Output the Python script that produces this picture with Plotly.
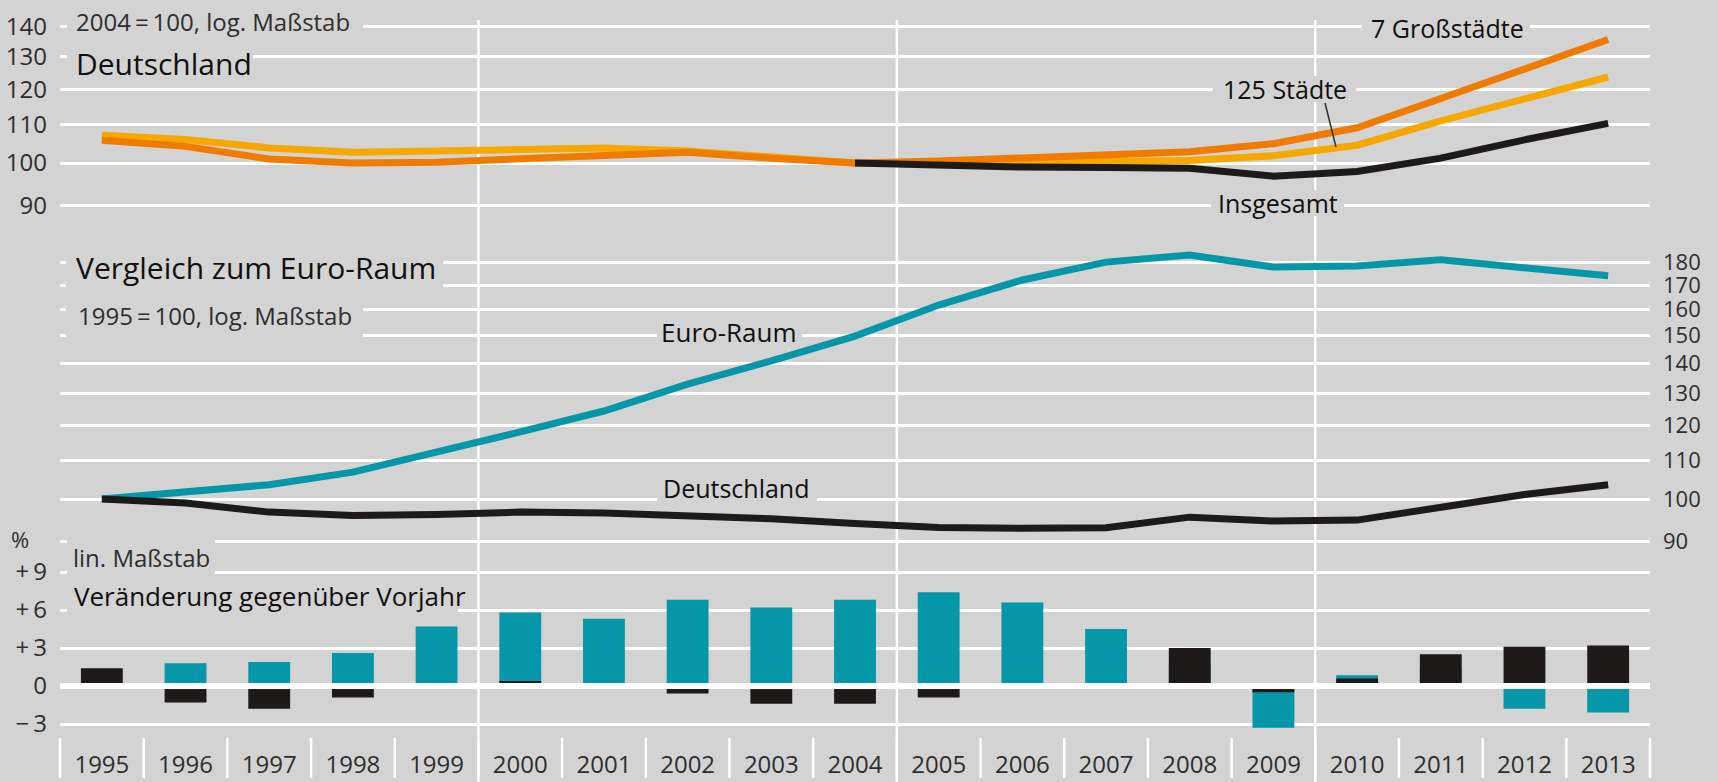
import plotly.graph_objects as go

# ---------------- data ----------------
years = list(range(1995, 2014))
year_labels = [str(y) for y in years]

# Top panel: Deutschland, 2004 = 100 (log scale)
staedte125 = [107.1, 106.0, 103.8, 102.7, 103.0, 103.6, 103.8, 103.0, 101.4, 100.0,
              99.9, 100.2, 100.4, 100.6, 101.8, 104.5, 111.0, 117.3, 123.7]
grossstaedte7 = [105.8, 104.2, 101.0, 100.0, 100.2, 101.0, 102.0, 102.7, 101.2, 100.0,
                 100.5, 101.3, 102.2, 102.8, 104.9, 109.1, 117.3, 126.4, 135.7]
insgesamt_years = years[9:]
insgesamt = [100.0, 99.4, 99.0, 98.9, 98.7, 96.8, 97.9, 101.2, 105.9, 110.3]

# Middle panel: Vergleich zum Euro-Raum, 1995 = 100 (log scale)
euro_raum = [100.0, 101.6, 103.6, 106.9, 112.2, 118.1, 124.4, 133.0, 140.9, 149.8,
             161.8, 172.2, 180.0, 183.2, 177.8, 178.3, 181.0, 177.7, 174.0]
deutschland = [100.0, 99.0, 96.8, 96.0, 96.2, 96.8, 96.6, 96.1, 95.2, 94.1,
               93.2, 93.0, 93.1, 95.6, 94.7, 94.9, 97.8, 101.1, 103.6]

# Bottom panel: Veränderung gegenüber Vorjahr in %
euro_change = [None, 1.8, 1.9, 2.6, 4.7, 5.8, 5.3, 6.8, 6.2, 6.8,
               7.4, 6.6, 4.5, 1.8, -3.3, 0.85, 1.5, -1.8, -2.1]
de_change = [1.4, -1.3, -1.8, -0.9, 0.2, 0.4, -0.2, -0.6, -1.4, -1.4,
             -0.9, -0.1, 0.1, 3.0, -0.5, 0.6, 2.5, 3.1, 3.2]

top_ticks = [90, 100, 110, 120, 130, 140]
mid_ticks = [90, 100, 110, 120, 130, 140, 150, 160, 170, 180]
bot_ticks = [-3, 0, 3, 6, 9]
bot_ticktext = ["\u2212\u20093", "0", "+\u20093", "+\u20096", "+\u20099"]

# ---------------- style / layout constants ----------------
W, H = 1717, 782
ML, MR, MT, MB = 60, 67, 18, 34
PW = W - ML - MR
PH = H - MT - MB
BG = "#d3d3d3"
TEAL = "#0596a7"
ORANGE = "#ef7c00"
YELLOW = "#f6a800"
BLACK = "#1d1a19"
TXT = "#101010"
TICK = "#2e2e2e"
FONT = "Open Sans"
LW = 7

XMIN, XMAX = 1994.5, 2013.5


def px(x):
    return (x - ML) / PW


def py(y):
    return (H - MB - y) / PH


def xp(year):
    return (year - XMIN) / (XMAX - XMIN)


fig = go.Figure()

# top panel lines
fig.add_trace(go.Scatter(x=years, y=staedte125, mode="lines", yaxis="y",
                         line=dict(color=YELLOW, width=LW), name="125 Städte"))
fig.add_trace(go.Scatter(x=years, y=grossstaedte7, mode="lines", yaxis="y",
                         line=dict(color=ORANGE, width=LW), name="7 Großstädte"))
fig.add_trace(go.Scatter(x=insgesamt_years, y=insgesamt, mode="lines", yaxis="y",
                         line=dict(color=BLACK, width=LW), name="Insgesamt"))

# middle panel lines
fig.add_trace(go.Scatter(x=years, y=euro_raum, mode="lines", yaxis="y2",
                         line=dict(color=TEAL, width=LW), name="Euro-Raum"))
fig.add_trace(go.Scatter(x=years, y=deutschland, mode="lines", yaxis="y2",
                         line=dict(color=BLACK, width=LW), name="Deutschland"))

# bottom panel bars
fig.add_trace(go.Bar(x=years, y=euro_change, yaxis="y3", width=0.5,
                     marker=dict(color=TEAL, line=dict(width=0)), name="Euro-Raum %"))
fig.add_trace(go.Bar(x=years, y=de_change, yaxis="y3", width=0.5,
                     marker=dict(color=BLACK, line=dict(width=0)), name="Deutschland %"))

# axis geometry (pixel based)
top_px_per_dec = 931.0
mid_px_per_dec = 928.0
top_y100, mid_y100 = 163.0, 499.0
bot_y0, bot_px_unit = 686.0, 38.0 / 3.0

top_dom = [py(215), py(MT)]
top_rng = [2 - (215 - top_y100) / top_px_per_dec, 2 + (top_y100 - MT) / top_px_per_dec]
mid_dom = [py(555), py(225)]
mid_rng = [2 - (555 - mid_y100) / mid_px_per_dec, 2 + (mid_y100 - 225) / mid_px_per_dec]
bot_dom = [0, py(560)]
bot_rng = [(bot_y0 - (H - MB)) / bot_px_unit, (bot_y0 - 560) / bot_px_unit]

tickfont = dict(family=FONT, size=24, color=TICK)
rtickfont = dict(family=FONT, size=22, color=TICK)

fig.update_layout(
    width=W, height=H,
    margin=dict(l=ML, r=MR, t=MT, b=MB, pad=0, autoexpand=False),
    paper_bgcolor=BG, plot_bgcolor=BG,
    showlegend=False,
    barmode="overlay",
    font=dict(family=FONT, color=TXT),
    xaxis=dict(range=[XMIN, XMAX], anchor="y3", tickmode="array", tickvals=years,
               ticktext=year_labels, tickfont=tickfont, showgrid=False, zeroline=False,
               showline=False, ticks="", automargin=False),
    yaxis=dict(type="log", domain=top_dom, range=top_rng, anchor="x", side="left",
               tickmode="array", tickvals=top_ticks, ticktext=[str(t) for t in top_ticks],
               tickfont=tickfont, showgrid=True, gridcolor="white", gridwidth=3,
               zeroline=False, showline=False, ticks="", ticklabelstandoff=12,
               automargin=False),
    yaxis2=dict(type="log", domain=mid_dom, range=mid_rng, anchor="x", side="right",
                tickmode="array", tickvals=mid_ticks, ticktext=[str(t) for t in mid_ticks],
                tickfont=rtickfont, showgrid=True, gridcolor="white", gridwidth=3,
                zeroline=False, showline=False, ticks="", ticklabelstandoff=12,
                automargin=False),
    yaxis3=dict(domain=bot_dom, range=bot_rng, anchor="x", side="left",
                tickmode="array", tickvals=bot_ticks, ticktext=bot_ticktext,
                tickfont=tickfont, showgrid=True, gridcolor="white", gridwidth=3,
                zeroline=False, showline=False, ticks="", ticklabelstandoff=12,
                automargin=False),
)

shapes = []
# vertical white lines every 5 years
for b in [1999.5, 2004.5, 2009.5]:
    shapes.append(dict(type="line", xref="paper", yref="paper", x0=xp(b), x1=xp(b),
                       y0=py(782), y1=py(20), line=dict(color="white", width=2.5),
                       layer="below"))
# category separators at the bottom
for k in range(len(years) + 1):
    b = XMIN + k
    shapes.append(dict(type="line", xref="paper", yref="paper", x0=xp(b), x1=xp(b),
                       y0=py(778), y1=py(738), line=dict(color="white", width=2.5),
                       layer="below"))
# thick zero line
shapes.append(dict(type="line", xref="paper", yref="y3", x0=0, x1=1, y0=0, y1=0,
                   line=dict(color="white", width=6), layer="above"))

# background masks behind text labels (hide gridlines)
masks = [
    (67, 363, 8, 40),      # 2004 = 100
    (67, 253, 47, 78),     # Deutschland title
    (1362, 1530, 14, 42),  # 7 Großstädte
    (1213, 1356, 76, 102),  # 125 Städte
    (1211, 1344, 190, 216),  # Insgesamt
    (66, 443, 252, 290),   # Vergleich
    (66, 363, 300, 341),   # 1995 = 100
    (657, 802, 318, 347),  # Euro-Raum
    (657, 817, 474, 504),  # Deutschland mid
    (67, 215, 537, 578),   # lin. Maßstab
    (67, 458, 582, 614),   # Veränderung
]
for (x0, x1, y0, y1) in masks:
    shapes.append(dict(type="rect", xref="paper", yref="paper", x0=px(x0), x1=px(x1),
                       y0=py(y1), y1=py(y0), fillcolor=BG, line=dict(width=0),
                       layer="above"))
# leader line for 125 Städte
shapes.append(dict(type="line", xref="paper", yref="paper", x0=px(1325), y0=py(103),
                   x1=px(1336), y1=py(147), line=dict(color="#333333", width=1.5),
                   layer="above"))
fig.update_layout(shapes=shapes)

ann = []


def add_text(text, x, y, size, anchor="left", weight=400, color=TXT):
    ann.append(dict(text=text, xref="paper", yref="paper", x=px(x), y=py(y),
                    xanchor=anchor, yanchor="middle", showarrow=False, borderpad=0,
                    font=dict(family=FONT, size=size, color=color, weight=weight)))


add_text("2004\u2009=\u2009100, log. Maßstab", 75, 22, 24, color=TICK)
add_text("Deutschland", 75, 63, 30, weight=500)
add_text("7 Großstädte", 1447, 28, 25, anchor="center", weight=500)
add_text("125 Städte", 1285, 89, 25, anchor="center", weight=500)
add_text("Insgesamt", 1278, 203, 25, anchor="center", weight=500)
add_text("Vergleich zum Euro-Raum", 75, 267, 30, weight=500)
add_text("1995\u2009=\u2009100, log. Maßstab", 77, 315, 24, color=TICK)
add_text("Euro-Raum", 729, 332, 26, anchor="center", weight=500)
add_text("Deutschland", 736, 488, 25, anchor="center", weight=500)
add_text("lin. Maßstab", 72, 557, 24, color=TICK)
add_text("Veränderung gegenüber Vorjahr", 73, 596, 26, weight=500)
add_text("%", 10, 539, 22, color=TICK)
fig.update_layout(annotations=ann)

fig.write_html(
    "out.html",
    config={"displayModeBar": False},
    post_script="document.body.style.margin='0';"
                "document.body.style.overflow='hidden';"
                "document.body.style.background='" + BG + "';",
)
